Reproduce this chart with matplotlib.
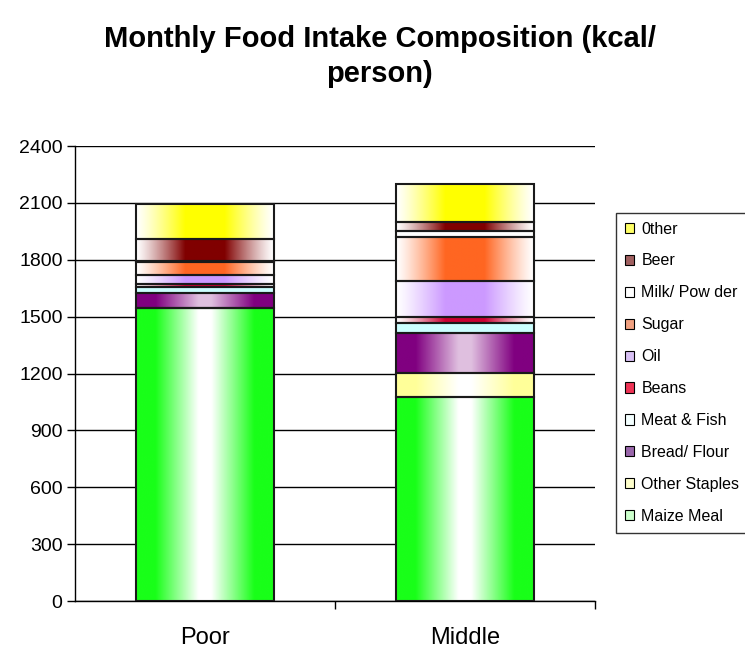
import numpy as np
import matplotlib.pyplot as plt
from matplotlib.patches import Patch

plt.rcParams['font.family'] = ['Liberation Sans', 'DejaVu Sans']

groups = ["Poor", "Middle"]
foods = ["Maize Meal", "Other Staples", "Bread/ Flour", "Meat & Fish", "Beans",
         "Oil", "Sugar", "Milk/ Pow der", "Beer", "0ther"]

# kcal per person, stacked bottom to top in the order of `foods`
poor = [1548, 0, 79, 31, 16, 44, 69, 8, 114, 185]
middle = [1075, 128, 211, 55, 30, 189, 234, 32, 44, 200]

# fill colour and gradient style: "edge" = colour at the sides, "mid" = colour in the middle
colors = ["#19ff19", "#ffff99", "#800080", "#ccffff", "#cc0033",
          "#cc99ff", "#ff6622", "#ffffff", "#800000", "#ffff00"]
styles = ["edge", "edge", "edge", "flat", "mid", "mid", "mid", "flat", "mid", "mid"]
legend_colors = ["#ccffcc", "#ffffcc", "#9966aa", "#f4ffff", "#ee3355",
                 "#d8c0f4", "#f0a080", "#ffffff", "#a06060", "#ffff66"]


def gradient(color, style, n=200):
    c = np.array(plt.matplotlib.colors.to_rgb(color))
    t = np.linspace(0, 1, n)
    d = np.abs(t - 0.5) * 2  # 0 in the middle, 1 at the sides
    if style == "edge":
        w = np.clip(d * 1.6 - 0.15, 0, 1)
        if color == "#800080":
            w = 0.25 + 0.75 * w
    elif style == "mid":
        w = np.clip((1 - d) * 1.4, 0, 1) ** 1.2
    else:
        w = np.ones(n)
    img = 1 - (1 - c)[None, :] * w[:, None]
    return img[None, :, :]


fig = plt.figure(figsize=(7.45, 6.48), dpi=100)
ax = fig.add_axes([0.1007, 0.0725, 0.698, 0.702])

x = np.arange(len(groups))
data = np.array([poor, middle])
bottom = np.zeros(len(groups))
for i, food in enumerate(foods):
    vals = data[:, i]
    bars = ax.bar(x, vals, bottom=bottom, width=0.53, facecolor="none",
                  edgecolor="#1a1a1a", linewidth=1.5, zorder=3)
    for rect in bars:
        if rect.get_height() <= 0:
            continue
        x0, y0 = rect.get_x(), rect.get_y()
        ax.imshow(gradient(colors[i], styles[i]), aspect="auto",
                  interpolation="bilinear", zorder=2,
                  extent=[x0, x0 + rect.get_width(), y0, y0 + rect.get_height()])
    bottom += vals

ax.set_xlim(-0.5, 1.5)
ax.set_ylim(0, 2400)
ax.set_yticks(np.arange(0, 2401, 300))
ax.tick_params(axis="y", labelsize=14, length=6, width=1, pad=3)
ax.yaxis.grid(True, color="black", linewidth=1)
ax.set_axisbelow(True)

ax.set_xticks(x)
ax.set_xticklabels(groups, fontsize=17)
ax.tick_params(axis="x", length=0, pad=19)
ax.set_xticks([0.5, 1.5], minor=True)
ax.tick_params(axis="x", which="minor", length=6, width=1)

for side in ["top", "right"]:
    ax.spines[side].set_visible(False)
ax.spines["left"].set_linewidth(1)
ax.spines["bottom"].set_linewidth(1)

fig.text(0.51, 0.913, "Monthly Food Intake Composition (kcal/\nperson)",
         ha="center", va="center", fontsize=21, fontweight="bold",
         linespacing=1.3)

handles = [Patch(facecolor=legend_colors[i], edgecolor="black", linewidth=0.8)
           for i in range(len(foods))][::-1]
leg = fig.legend(handles, foods[::-1], loc="upper left",
                 bbox_to_anchor=(0.816, 0.684), fontsize=11.5, frameon=True,
                 fancybox=False, edgecolor="black", handlelength=0.6,
                 handleheight=0.6, handletextpad=0.45, labelspacing=1.06,
                 borderpad=0.55)
leg.get_frame().set_linewidth(1)

fig.savefig("out.png", dpi=100)
